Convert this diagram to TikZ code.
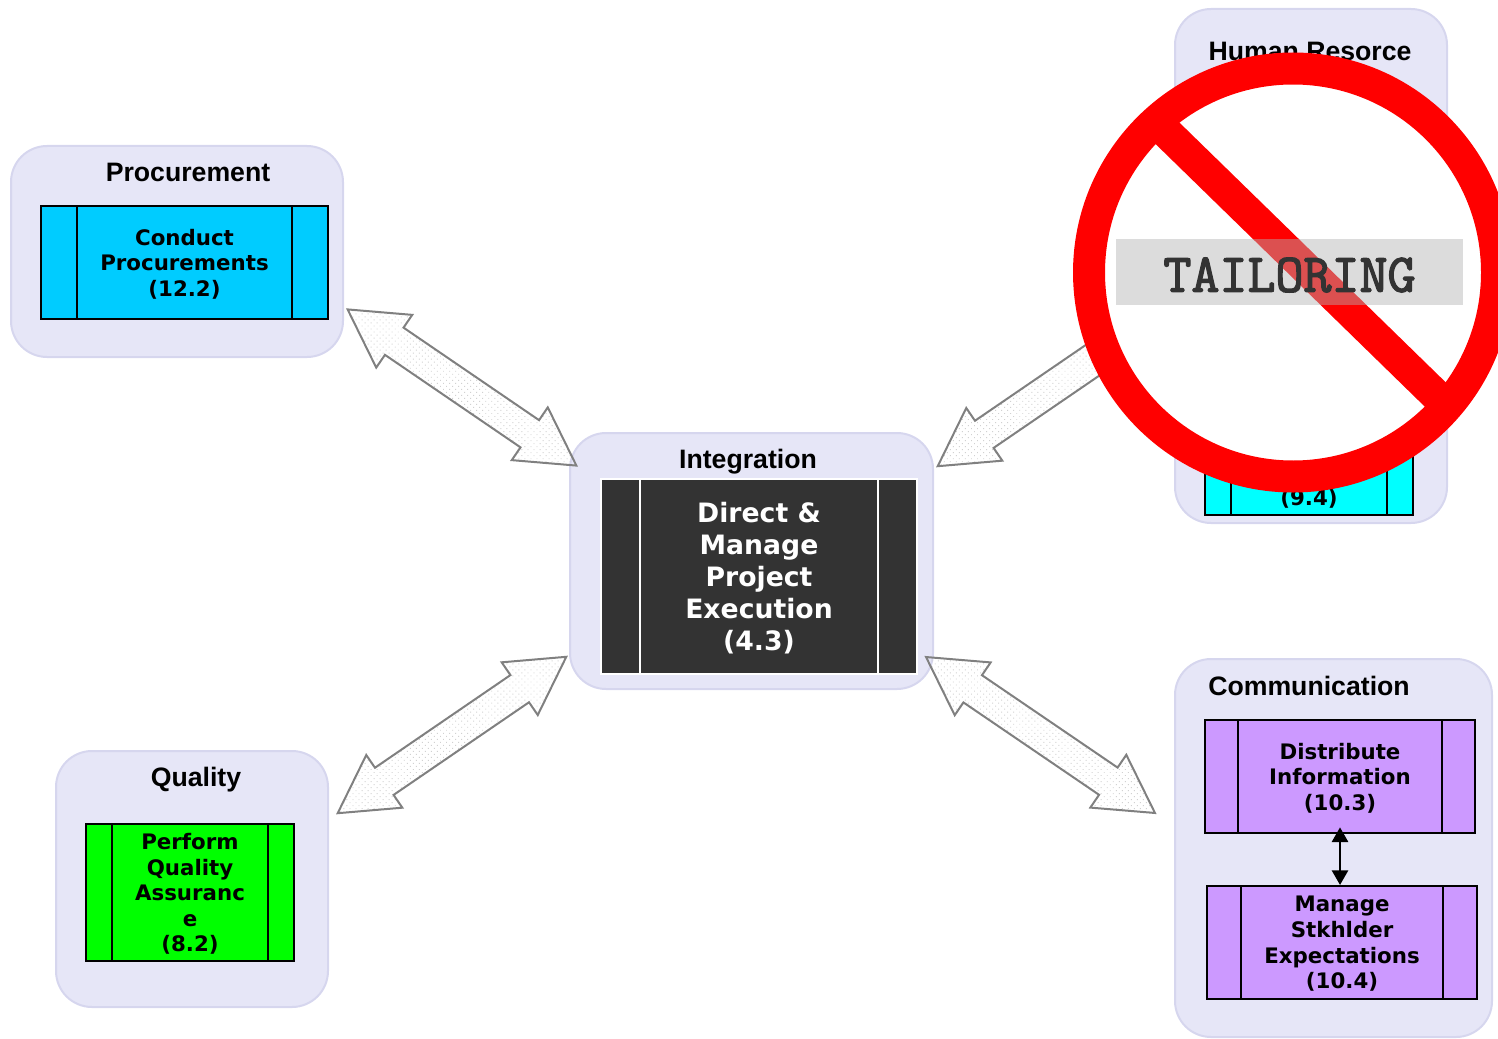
\documentclass[tikz,border=0pt]{standalone}
\usepackage{fontspec}
\setmainfont{DejaVu Sans}
\newfontfamily\titlefont{Liberation Sans}
\newfontfamily\stampfont{Latin Modern Mono}[FakeBold=2.5]
\usetikzlibrary{arrows.meta,patterns.meta,shapes.arrows}
\definecolor{groupfill}{HTML}{E6E6F7}
\definecolor{groupline}{HTML}{D6D6EE}
\definecolor{procblue}{HTML}{00CCFF}
\definecolor{hrcyan}{HTML}{00FFFF}
\definecolor{qualgreen}{HTML}{00FF00}
\definecolor{commpurple}{HTML}{CC99FF}
\definecolor{intdark}{HTML}{333333}
\tikzset{
  size/.style 2 args={minimum width=#1*0.75pt, minimum height=#2*0.75pt},
  group/.style={draw=groupline, fill=groupfill, line width=1.5pt, rounded corners=27pt, inner sep=0pt},
  grouptitle/.style={font=\titlefont\bfseries\fontsize{20}{24}\selectfont, inner sep=0pt, text depth=0pt},
  procbox/.style={draw=black, line width=1.5pt, inner sep=0pt, align=center, text depth=0pt, font=\bfseries\fontsize{16}{19.2}\selectfont},
  bars/.style 2 args={path picture={
    \draw[#2, line width=1.5pt] ([xshift=#1*0.75pt]path picture bounding box.south west) -- ([xshift=#1*0.75pt]path picture bounding box.north west)
      ([xshift=-#1*0.75pt]path picture bounding box.south east) -- ([xshift=-#1*0.75pt]path picture bounding box.north east);}},
  blockarrow/.style={sloped, shape=double arrow, draw=black!50, line width=1.5pt, inner xsep=0pt, inner ysep=11.6pt,
    double arrow head extend=11.6pt, double arrow tip angle=59, minimum height=277*0.75pt,
    pattern={Dots[distance=3.2pt, radius=0.5pt, angle=45]}, pattern color=black!18},
}
\begin{document}
\begin{tikzpicture}[x=0.75pt,y=-0.75pt]
  \useasboundingbox (0,0) rectangle (1498,1038);
  % groups
  \node[group, size={332}{211}] (procgroup) at (177,251.5) {};
  \node[group, size={272}{256}] (qualgroup) at (192,879) {};
  \node[group, size={363}{256}] (intgroup) at (751.5,561) {};
  \node[group, size={272}{514}] (hrgroup) at (1311,266) {};
  \node[group, size={317}{378}] (commgroup) at (1333.5,848) {};
  % titles
  \node[grouptitle] (proctitle) at (188,172) {Procurement};
  \node[grouptitle] (qualtitle) at (196,777) {Quality};
  \node[grouptitle] (inttitle) at (748,459) {Integration};
  \node[grouptitle] (hrtitle) at (1310,51) {Human Resorce};
  \node[grouptitle] (commtitle) at (1309,686) {Communication};
  % process boxes
  \node[procbox, fill=procblue, size={287}{113}, bars={36}{black}] (conduct) at (184.5,262.5) {Conduct\\Procurements\\(12.2)};
  \node[procbox, fill=qualgreen, size={208}{137}, bars={26}{black}] (perform) at (190,892.5) {Perform\\Quality\\Assuranc\\e\\(8.2)};
  \node[procbox, draw=white, fill=intdark, text=white, size={316}{195}, bars={39}{white},
    font=\bfseries\fontsize{20}{24}\selectfont] (direct) at (759,576) {Direct \&\\Manage\\Project\\Execution\\(4.3)};
  \node[procbox, fill=hrcyan, size={208}{135}, bars={26}{black}] (hrbox) at (1309,447.5) {};
  \node[inner sep=0pt, text depth=0pt, font=\bfseries\fontsize{16}{19.2}\selectfont] (hrnum) at (1309,497) {(9.4)};
  \node[procbox, fill=commpurple, size={270}{113}, bars={33}{black}] (distinfo) at (1340,776.5) {Distribute\\Information\\(10.3)};
  \node[procbox, fill=commpurple, size={270}{113}, bars={34}{black}] (manage) at (1342,942.5) {Manage\\Stkhlder\\Expectations\\(10.4)};
  \draw[{Triangle[length=11pt,width=12pt]}-{Triangle[length=11pt,width=12pt]}, line width=2pt, shorten <=-5pt]
    (distinfo.south) -- (distinfo.south |- manage.north);
  % block arrows
  \coordinate (procend) at (347,309);
  \coordinate (intnw) at (577,466);
  \coordinate (qualend) at (338,813);
  \coordinate (intsw) at (566,657);
  \coordinate (intne) at (938,466);
  \coordinate (hrend) at (1166,310);
  \coordinate (intse) at (926,657);
  \coordinate (commend) at (1155,813);
  \path (procend) -- node[blockarrow] (procarrow) {} (intnw);
  \path (qualend) -- node[blockarrow] (qualarrow) {} (intsw);
  \path (intne) -- node[blockarrow] (hrarrow) {} (hrend);
  \path (intse) -- node[blockarrow] (commarrow) {} (commend);
  % no sign
  \node[circle, draw=red, fill=white, line width=24pt, minimum size=408*0.75pt, inner sep=0pt] (nosign) at (1293,272.5) {};
  \coordinate (barstart) at (1160,126);
  \coordinate (barend) at (1445,404);
  \draw[red, line width=24pt] (barstart) -- (barend);
  \fill[black!30, opacity=0.45] (1116,239) rectangle (1463,305);
  \node[inner sep=0pt, text=intdark, font=\stampfont\fontsize{40.8}{44}\selectfont] (stamp) at (1289.5,275) {TAILORING};
\end{tikzpicture}
\end{document}
